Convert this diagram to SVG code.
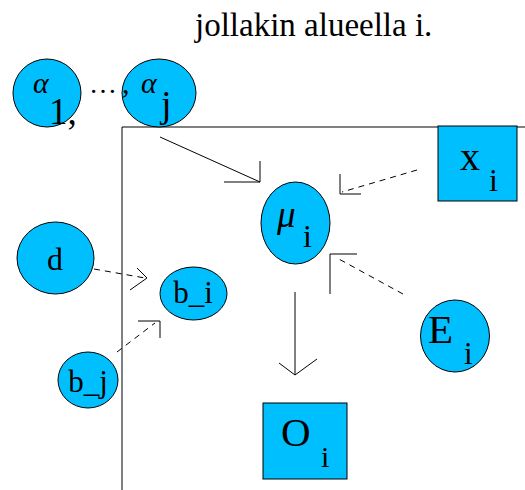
<svg xmlns="http://www.w3.org/2000/svg" width="525" height="490" viewBox="0 0 525 490">
<style>
.n{fill:#00bfff;stroke:#000;stroke-width:1}
.l{fill:none;stroke:#000;stroke-width:1}
.d{fill:none;stroke:#000;stroke-width:1;stroke-dasharray:6,5}
</style>
<rect width="525" height="490" fill="#fff"/>
<g font-family="Liberation Serif, serif" fill="#000">
<text x="195" y="36" font-size="33">jollakin alueella i.</text>
<g id="frame">
<polyline class="l" points="122,490 122,127 525,127" stroke="#444"/>
</g>
<g id="alpha1">
<ellipse class="n" cx="47" cy="93" rx="34" ry="34"/>
</g>
<g id="alphaj">
<ellipse class="n" cx="159" cy="93" rx="37" ry="34"/>
</g>
<g id="alpha-text">
<text x="33" y="93" font-size="30" font-style="italic">α</text>
<text x="49" y="124" font-size="37">1,</text>
<text x="89" y="93" font-size="28">…</text>
<text x="122" y="93" font-size="30">,</text>
<text x="141" y="93" font-size="30" font-style="italic">α</text>
<text x="161" y="117" font-size="38">j</text>
</g>
<g id="x_i">
<rect class="n" x="438" y="126" width="79" height="75"/>
<text x="460" y="170" font-size="40">x</text>
<text x="489" y="191" font-size="32">i</text>
</g>
<g id="mu_i">
<ellipse class="n" cx="295.5" cy="223" rx="34.5" ry="41"/>
<text x="277" y="227" font-size="37" font-style="italic">μ</text>
<text x="303" y="247" font-size="32">i</text>
</g>
<g id="E_i">
<ellipse class="n" cx="455" cy="336" rx="34.5" ry="36"/>
<text x="428" y="343" font-size="41">E</text>
<text x="464" y="364" font-size="31">i</text>
</g>
<g id="O_i">
<rect class="n" x="263" y="403" width="84" height="76"/>
<text x="281" y="446" font-size="41">O</text>
<text x="321" y="467" font-size="30">i</text>
</g>
<g id="d">
<ellipse class="n" cx="55.5" cy="258" rx="38.5" ry="36"/>
<text x="55" y="270" font-size="32" text-anchor="middle">d</text>
</g>
<g id="b_i">
<ellipse class="n" cx="193.5" cy="293.5" rx="33.5" ry="26.5"/>
<text x="193" y="303" font-size="31" text-anchor="middle">b_i</text>
</g>
<g id="b_j">
<ellipse class="n" cx="88" cy="380" rx="30" ry="28"/>
<text x="88" y="392" font-size="31" text-anchor="middle">b_j</text>
</g>
</g>
<g id="connectors">
<line class="l" x1="160" y1="137" x2="260" y2="182"/>
<polyline class="l" points="224,182 260,182 260,161"/>
<line class="d" x1="417" y1="170" x2="342" y2="192"/>
<polyline class="l" points="340,174 340,194 361,194"/>
<line class="d" x1="403" y1="294" x2="337" y2="258"/>
<polyline class="l" points="330,294 330,254 357,254"/>
<line class="l" x1="295" y1="292" x2="295" y2="375"/>
<polyline class="l" points="279,363 295,375 317,359"/>
<line class="d" x1="94" y1="269" x2="145" y2="278"/>
<polyline class="l" points="137,268 147,278 130,290"/>
<line class="d" x1="117" y1="352" x2="155" y2="323"/>
<polyline class="l" points="138,321 160,321 160,338"/>
</g>
</svg>
